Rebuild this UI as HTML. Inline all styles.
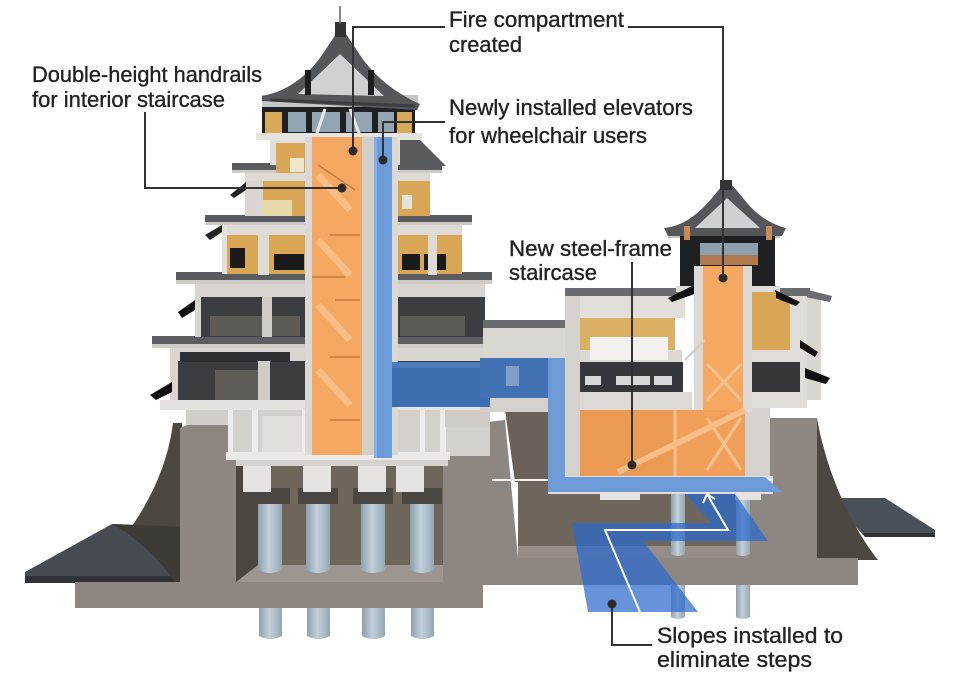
<!DOCTYPE html>
<html><head><meta charset="utf-8"><style>
html,body{margin:0;padding:0;background:#fff;}
svg{display:block;}
text{font-family:"Liberation Sans",sans-serif;font-size:22px;fill:#222;stroke:#222;stroke-width:0.35;}
</style></head><body>
<svg width="960" height="680" viewBox="0 0 960 680" xmlns="http://www.w3.org/2000/svg">
<defs>
<linearGradient id="pile" x1="0" x2="1" y1="0" y2="0">
<stop offset="0" stop-color="#8ea0ad"/><stop offset="0.45" stop-color="#c2d0da"/><stop offset="1" stop-color="#95a7b4"/>
</linearGradient>
</defs>
<rect width="960" height="680" fill="#fff"/>

<!-- piles below slabs -->
<g fill="url(#pile)">
<path d="M259,600 h23 v36 q-11.5,6 -23,0 z"/>
<path d="M307,600 h23 v36 q-11.5,6 -23,0 z"/>
<path d="M362,600 h23 v36 q-11.5,6 -23,0 z"/>
<path d="M411,600 h23 v36 q-11.5,6 -23,0 z"/>
<path d="M671,580 h14 v37 q-7,4 -14,0 z"/>
<path d="M736,580 h14 v37 q-7,4 -14,0 z"/>
</g>

<!-- left stone slope + slab -->
<path d="M173,423 C166,480 132,540 80,582 L182,582 L182,423 Z" fill="#4d4741"/>
<polygon points="25,572 112,524 182,527 182,583 25,583" fill="#474c52"/>
<polygon points="25,576 182,576 182,583 25,583" fill="#2f3337"/>
<path d="M112,524 C140,540 160,560 175,582 L182,582 L182,527 Z" fill="#3e3a36"/>

<!-- right stone slope + slab -->
<polygon points="830,498 885,498 935,530 935,537 865,537" fill="#4a5058"/>
<polygon points="862,533 935,533 935,537 865,537" fill="#2f3337"/>
<path d="M817,418 C826,470 850,525 878,560 L817,560 Z" fill="#4d4741"/>

<!-- foundation gray -->
<g fill="#8d8681">
<rect x="75" y="582" width="408" height="26"/>
<polygon points="180,428 192,423 236,423 236,583 180,583"/>
<polygon points="443,427 505,420 518,558 483,558 483,585 443,585"/>
<rect x="483" y="558" width="375" height="27"/>
<polygon points="748,418 817,418 817,560 748,560"/>
</g>

<!-- pits -->
<rect x="236" y="423" width="207" height="159" fill="#6e655b"/>
<polygon points="236,423 258,430 258,565 236,582" fill="#4c4641"/>
<polygon points="258,565 443,565 443,582 236,582" fill="#9d958f"/>
<rect x="518" y="420" width="230" height="138" fill="#6e655b"/>
<rect x="518" y="546" width="230" height="12" fill="#958d86"/>
<polygon points="505,410 548,410 548,482 515,482" fill="#6a6259"/>

<!-- piles in pits -->
<g fill="url(#pile)">
<path d="M258,500 h24 v70 q-12,6 -24,0 z"/>
<path d="M306,500 h24 v70 q-12,6 -24,0 z"/>
<path d="M361,500 h24 v70 q-12,6 -24,0 z"/>
<path d="M410,500 h24 v70 q-12,6 -24,0 z"/>
<path d="M671,492 h14 v62 q-7,4 -14,0 z"/>
<path d="M736,492 h14 v62 q-7,4 -14,0 z"/>
</g>

<!-- ===== MAIN CASTLE ===== -->
<g fill="#4a4642">
<rect x="250" y="488" width="40" height="16"/><rect x="298" y="488" width="40" height="16"/>
<rect x="353" y="488" width="40" height="16"/><rect x="402" y="488" width="40" height="16"/>
</g>
<g fill="#e6e4e1">
<rect x="243" y="460" width="28" height="32"/><rect x="303" y="460" width="28" height="32"/>
<rect x="358" y="460" width="28" height="32"/><rect x="396" y="460" width="28" height="32"/>
</g>
<rect x="236" y="458" width="212" height="8" fill="#d6d3cf"/>
<rect x="186" y="405" width="50" height="20" fill="#d2cfcb"/>
<rect x="228" y="408" width="262" height="48" fill="#d4d1cd"/>
<rect x="262" y="416" width="40" height="36" fill="#e2dfda"/>
<g fill="#eeecea">
<rect x="228" y="408" width="5" height="48"/><rect x="252" y="408" width="6" height="48"/>
<rect x="302" y="408" width="6" height="48"/><rect x="420" y="408" width="5" height="48"/>
<rect x="440" y="408" width="6" height="48"/>
</g>
<rect x="226" y="452" width="224" height="8" fill="#ebe9e6"/>
<rect x="445" y="410" width="45" height="17" fill="#cfccc8"/>

<!-- Level E -->
<rect x="170" y="345" width="320" height="60" fill="#3a3c3f"/>
<rect x="170" y="345" width="320" height="16" fill="#d9d6d2"/>
<rect x="215" y="370" width="45" height="32" fill="#5f5b57"/>
<rect x="180" y="352" width="110" height="10" fill="#2e3033"/>
<rect x="258" y="361" width="12" height="42" fill="#cfcbc6"/>
<rect x="170" y="361" width="8" height="44" fill="#d9d6d2"/>
<rect x="160" y="400" width="332" height="10" fill="#e4e2df"/>
<polygon points="150,395 172,382 172,392 156,400" fill="#111"/>
<rect x="152" y="336" width="348" height="10" fill="#5c5d60"/>
<rect x="152" y="344" width="348" height="4" fill="#cfccc8"/>

<!-- Level D -->
<rect x="195" y="282" width="290" height="55" fill="#3b3d40"/>
<rect x="195" y="282" width="290" height="15" fill="#d8d5d1"/>
<rect x="210" y="316" width="90" height="20" fill="#5e5a56"/>
<rect x="400" y="316" width="65" height="20" fill="#5e5a56"/>
<rect x="262" y="297" width="10" height="40" fill="#cfcbc6"/>
<rect x="195" y="297" width="6" height="40" fill="#d9d6d2"/>
<polygon points="178,312 195,300 195,310 182,318" fill="#111"/>
<rect x="176" y="272" width="316" height="10" fill="#5a5b5e"/>
<rect x="176" y="280" width="316" height="4" fill="#cfccc8"/>

<!-- Level C -->
<rect x="222" y="222" width="240" height="52" fill="#d8a655"/>
<rect x="222" y="222" width="240" height="13" fill="#dedbd7"/>
<rect x="230" y="248" width="15" height="20" fill="#1a1a1a"/>
<rect x="274" y="254" width="30" height="16" fill="#1a1a1a"/>
<rect x="402" y="254" width="18" height="16" fill="#1a1a1a"/>
<rect x="424" y="254" width="22" height="16" fill="#1a1a1a"/>
<rect x="258" y="235" width="11" height="40" fill="#dedbd7"/>
<rect x="428" y="235" width="9" height="40" fill="#dedbd7"/>
<rect x="222" y="222" width="5" height="52" fill="#e4e1dd"/>
<polygon points="205,235 222,225 222,232 210,240" fill="#222"/>
<rect x="205" y="215" width="267" height="9" fill="#5a5b5e"/>
<rect x="205" y="222" width="267" height="3" fill="#cfccc8"/>

<!-- Level B -->
<rect x="245" y="172" width="185" height="44" fill="#d8a655"/>
<rect x="245" y="172" width="185" height="9" fill="#dedbd7"/>
<rect x="245" y="181" width="18" height="35" fill="#d9d6d2"/>
<rect x="262" y="200" width="30" height="16" fill="#e8d7a8"/>
<rect x="402" y="195" width="10" height="14" fill="#e6e2dc"/>
<polygon points="230,195 246,182 246,190 234,198" fill="#222"/>
<rect x="232" y="163" width="210" height="9" fill="#5a5b5e"/>
<rect x="232" y="170" width="210" height="3" fill="#cfccc8"/>
<polygon points="398,140 420,140 446,166 398,166" fill="#5a5b5e"/>

<!-- Level A -->
<rect x="270" y="137" width="130" height="28" fill="#e2dfdb"/>
<rect x="276" y="143" width="30" height="30" fill="#d8a655"/>
<rect x="290" y="158" width="14" height="14" fill="#efe6cf"/>

<!-- top floor -->
<rect x="262" y="95" width="156" height="14" fill="#c6c6c8"/>
<rect x="262" y="107" width="153" height="29" fill="#1f2022"/>
<g fill="#93a5b3">
<rect x="288" y="112" width="18" height="20"/><rect x="312" y="112" width="28" height="20"/>
<rect x="346" y="112" width="26" height="20"/><rect x="378" y="112" width="16" height="20"/>
</g>
<rect x="265" y="112" width="17" height="22" fill="#d9a95a"/>
<rect x="397" y="112" width="15" height="22" fill="#d9a95a"/>
<line x1="325" y1="109" x2="316" y2="136" stroke="#e8e8e8" stroke-width="3"/>
<line x1="350" y1="109" x2="360" y2="136" stroke="#e8e8e8" stroke-width="3"/>
<rect x="256" y="133" width="166" height="7" fill="#e6e4e1"/>
<path d="M262,96 C285,92 305,78 320,58 L336,34 L346,34 L362,58 C378,80 398,94 420,104 L417,110 L262,101 Z" fill="#55565a"/>
<path d="M298,94 L340,54 L384,96 Z" fill="#d0d1d3"/>
<path d="M270,100 L415,106" stroke="#3a3b3e" stroke-width="3"/>
<rect x="305" y="70" width="6" height="25" fill="#1d1d1f"/>
<rect x="368" y="70" width="6" height="25" fill="#1d1d1f"/>
<rect x="335" y="22" width="11" height="15" fill="#333"/>
<line x1="340" y1="6" x2="340" y2="24" stroke="#666" stroke-width="1.5"/>

<rect x="305" y="137" width="8" height="318" fill="#dcd9d5"/>
<rect x="362" y="137" width="12" height="318" fill="#d2cfcb"/>
<rect x="392" y="137" width="6" height="318" fill="#dcd9d5"/>
<rect x="312" y="137" width="50" height="318" fill="#f4a862"/>
<g stroke="#f8be86" stroke-width="7">
<line x1="318" y1="175" x2="350" y2="210"/><line x1="318" y1="240" x2="350" y2="275"/>
<line x1="318" y1="305" x2="350" y2="340"/><line x1="318" y1="370" x2="350" y2="405"/>
</g>
<g stroke="#c97a3e" stroke-width="1.5">
<line x1="318" y1="165" x2="355" y2="190"/><line x1="330" y1="235" x2="360" y2="235"/>
<line x1="312" y1="277" x2="345" y2="277"/><line x1="335" y1="300" x2="360" y2="300"/>
<line x1="330" y1="357" x2="360" y2="357"/><line x1="330" y1="420" x2="360" y2="420"/>
</g>
<rect x="374" y="137" width="18" height="321" fill="#6b9bd9"/>
<rect x="374" y="137" width="3" height="321" fill="#86aee3"/>

<!-- ===== RIGHT CASTLE ===== -->
<rect x="483" y="328" width="90" height="32" fill="#dad7d3"/>
<rect x="483" y="320" width="90" height="8" fill="#6b6c6f"/>
<rect x="480" y="398" width="70" height="14" fill="#d5d2ce"/>

<rect x="565" y="288" width="125" height="8" fill="#6b6c6f"/>
<rect x="565" y="296" width="120" height="22" fill="#e2dfdb"/>
<rect x="580" y="318" width="95" height="34" fill="#dbb062"/>
<rect x="570" y="350" width="112" height="12" fill="#dcd9d5"/>
<rect x="590" y="337" width="78" height="23" fill="#f3f2f0"/>
<rect x="575" y="362" width="108" height="30" fill="#35373a"/>
<g fill="#d7d7d7">
<rect x="585" y="376" width="16" height="9"/><rect x="616" y="376" width="34" height="9"/><rect x="654" y="376" width="18" height="9"/>
</g>
<rect x="570" y="392" width="122" height="18" fill="#dedbd7"/>
<rect x="565" y="296" width="15" height="182" fill="#d6d3cf"/>
<!-- right block -->
<rect x="805" y="296" width="16" height="104" fill="#d9d6d2"/>
<polygon points="800,288 832,296 830,302 800,296" fill="#6b6c6f"/>
<rect x="770" y="288" width="40" height="8" fill="#6b6c6f"/>
<rect x="745" y="296" width="62" height="112" fill="#e0ddd9"/>
<rect x="752" y="300" width="38" height="50" fill="#d8a655"/>
<rect x="752" y="362" width="48" height="30" fill="#35373a"/>
<rect x="745" y="408" width="25" height="70" fill="#d6d3cf"/>
<polygon points="800,340 818,352 815,357 800,348" fill="#111"/>
<polygon points="805,368 830,378 826,384 805,378" fill="#111"/>
<rect x="668" y="228" width="112" height="10" fill="#c6c6c8"/>
<rect x="680" y="236" width="95" height="54" fill="#1f2022"/>
<rect x="700" y="243" width="58" height="20" fill="#8e9fad"/>
<rect x="700" y="255" width="58" height="10" fill="#b07a4e"/>
<rect x="676" y="286" width="104" height="6" fill="#e0ddd9"/>
<polygon points="668,298 700,282 700,292 672,302" fill="#111"/>
<polygon points="775,290 800,302 796,306 775,298" fill="#111"/>
<rect x="752" y="292" width="24" height="40" fill="#d8a655"/>
<path d="M664,228 C685,226 700,212 712,198 L722,186 L733,186 L743,198 C755,214 770,224 786,228 L782,236 L668,236 Z" fill="#55565a"/>
<path d="M695,228 L727,198 L760,228 Z" fill="#cfd0d2"/>
<rect x="684" y="226" width="6" height="14" fill="#c98a55"/>
<rect x="766" y="226" width="6" height="14" fill="#c98a55"/>
<rect x="720" y="180" width="12" height="10" fill="#333"/>
<rect x="694" y="266" width="9" height="146" fill="#dcd9d5"/>
<rect x="743" y="266" width="9" height="146" fill="#dcd9d5"/>
<rect x="703" y="266" width="40" height="146" fill="#f4a862"/>
<rect x="580" y="410" width="165" height="66" fill="#f0a05a"/>
<rect x="580" y="410" width="95" height="66" fill="#ea9a52"/>
<g stroke="#f8c28c" stroke-width="3" fill="none">
<line x1="707" y1="364" x2="741" y2="400"/><line x1="741" y1="364" x2="707" y2="400"/>
<line x1="707" y1="418" x2="741" y2="470"/><line x1="741" y1="418" x2="707" y2="470"/>
<line x1="675" y1="410" x2="675" y2="476"/>
</g>
<line x1="618" y1="472" x2="745" y2="410" stroke="#f8be86" stroke-width="6"/>
<line x1="685" y1="360" x2="705" y2="340" stroke="#cfcbc6" stroke-width="2"/>
<rect x="548" y="476" width="225" height="18" fill="#e2dfdb"/>
<g fill="#e6e4e1"><rect x="600" y="492" width="40" height="8"/><rect x="735" y="492" width="26" height="8"/></g>
<line x1="492" y1="480" x2="773" y2="480" stroke="#f2f2f2" stroke-width="2"/>

<!-- ===== BLUE ===== -->
<rect x="392" y="362" width="98" height="45" fill="#3e6eb0"/>
<rect x="392" y="362" width="98" height="6" fill="#4b7bbd"/>
<rect x="480" y="358" width="68" height="40" fill="#4272b3"/>
<rect x="506" y="366" width="13" height="20" fill="#7fa0c8"/>
<rect x="548" y="358" width="17" height="134" fill="#6d9bd8"/>
<polygon points="548,477 765,477 782,492 548,492" fill="#6d9bd8"/>
<polygon points="685,494 735,494 768,541 643,541 698,612 588,612 572,523 712,523" fill="rgba(45,105,205,0.72)"/>
<g stroke="#fff" stroke-width="2" fill="none">
<polyline points="640,612 605,530 728,530 707,494"/>
<polyline points="703,503 707,494 715,499"/>
</g>

<!-- ===== LEADERS ===== -->
<g stroke="#333" stroke-width="2" fill="none">
<polyline points="145,112 145,188 342,188"/>
<polyline points="445,27 353,27 353,151"/>
<polyline points="628,27 723,27 723,278"/>
<polyline points="445,122 383,122 383,160"/>
<line x1="632" y1="262" x2="632" y2="465"/>
<polyline points="612,604 612,645 652,645"/>
</g>
<g fill="#2a2a2a">
<circle cx="342" cy="188" r="4.5"/><circle cx="353" cy="151" r="4.5"/>
<circle cx="723" cy="278" r="4.5"/><circle cx="383" cy="160" r="4.5"/>
<circle cx="632" cy="465" r="4.5"/><circle cx="612" cy="604" r="4.5"/>
</g>

<!-- ===== LABELS ===== -->
<text x="32" y="82" textLength="230" lengthAdjust="spacingAndGlyphs">Double-height handrails</text>
<text x="32" y="107" textLength="193" lengthAdjust="spacingAndGlyphs">for interior staircase</text>
<text x="449" y="27" textLength="175" lengthAdjust="spacingAndGlyphs">Fire compartment</text>
<text x="449" y="52" textLength="73" lengthAdjust="spacingAndGlyphs">created</text>
<text x="449" y="115" textLength="244" lengthAdjust="spacingAndGlyphs">Newly installed elevators</text>
<text x="449" y="143" textLength="198" lengthAdjust="spacingAndGlyphs">for wheelchair users</text>
<text x="509" y="256" textLength="163" lengthAdjust="spacingAndGlyphs">New steel-frame</text>
<text x="509" y="280" textLength="88" lengthAdjust="spacingAndGlyphs">staircase</text>
<text x="657" y="643" textLength="186" lengthAdjust="spacingAndGlyphs">Slopes installed to</text>
<text x="657" y="667" textLength="155" lengthAdjust="spacingAndGlyphs">eliminate steps</text>
</svg>
</body></html>
